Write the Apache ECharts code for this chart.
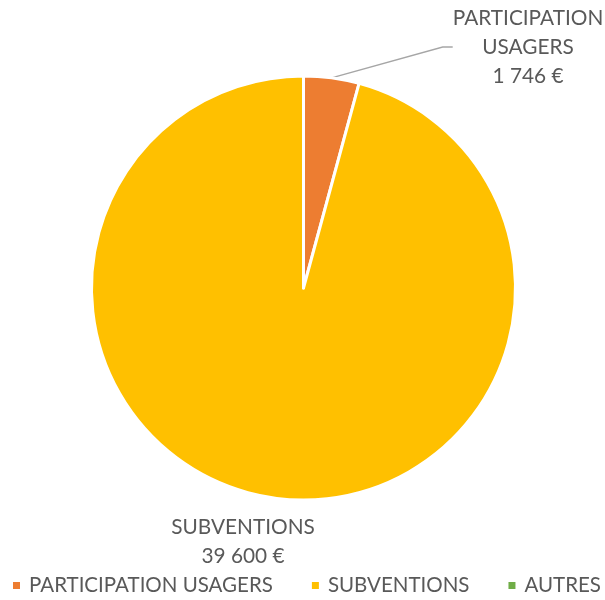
<!DOCTYPE html>
<html><head><meta charset="utf-8">
<script src="https://cdn.jsdelivr.net/npm/echarts@6/dist/echarts.min.js"></script>
<style>html,body{margin:0;padding:0;background:#fff}#c{width:605px;height:600px}</style>
</head><body><div id="c"></div>
<script>
const categories = ['PARTICIPATION USAGERS', 'SUBVENTIONS', 'AUTRES'];
const values = [1746, 39600, 0];
const colors = ['#ED7D31', '#FFC000', '#70AD47'];
const labelNames = ['PARTICIPATION\nUSAGERS', 'SUBVENTIONS', 'AUTRES'];

function fmt(v){ return String(v).replace(/\B(?=(\d{3})+(?!\d))/g, ' ') + ' €'; }

const chart = echarts.init(document.getElementById('c'));
const FONT = 'Lato';
chart.setOption({
  animation: false,
  color: colors,
  legend: {
    bottom: -1, left: 6, width: 700, padding: [5, 0, 5, 5],
    icon: 'rect', itemWidth: 9, itemHeight: 9, itemGap: 37,
    textStyle: { fontFamily: FONT, fontSize: 20.5, color: '#595959', padding: [0, 0, 0, 3] },
    data: categories
  },
  series: [{
    type: 'pie',
    center: [303.5, 288], radius: 212,
    startAngle: 90, clockwise: true,
    itemStyle: { borderColor: '#fff', borderWidth: 3 },
    label: {
      show: true, position: 'outside',
      fontFamily: FONT, fontSize: 20.8, color: '#595959', lineHeight: 29, align: 'center',
      formatter: p => labelNames[p.dataIndex] + '\n' + fmt(p.value)
    },
    labelLine: { show: true, lineStyle: { color: '#A6A6A6', width: 1.3 }, length: 10, length2: 10 },
    labelLayout: function(p){
      if (p.dataIndex === 0) return { x: 528, y: 47, align: 'center', verticalAlign: 'middle' };
      if (p.dataIndex === 1) return { x: 243, y: 542, align: 'center', verticalAlign: 'middle' };
      return {};
    },
    data: categories.map((c, i) => ({
      name: c, value: values[i],
      label: { show: values[i] > 0 },
      labelLine: { show: i === 0 }
    }))
  }]
});
</script></body></html>
